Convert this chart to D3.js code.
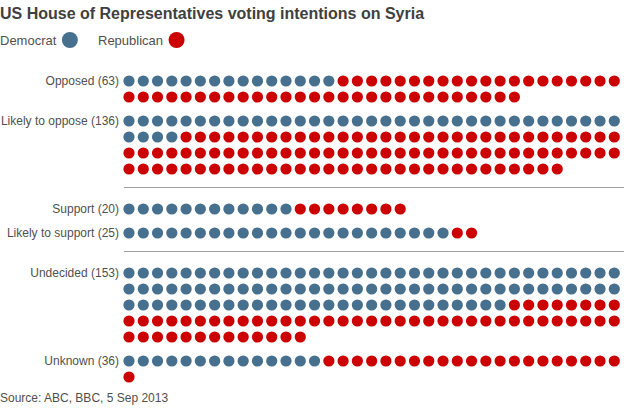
<!DOCTYPE html>
<html><head><meta charset="utf-8">
<script src="https://cdn.jsdelivr.net/npm/d3@7"></script>
<style>
html,body{margin:0;padding:0;background:#fff;}
svg{display:block;font-family:"Liberation Sans",Arial,Helvetica,sans-serif;}
</style></head>
<body>
<svg id="chart" width="624" height="412"></svg>
<script>
const title = "US House of Representatives voting intentions on Syria";
const source = "Source: ABC, BBC, 5 Sep 2013";
const seriesNames = ["Democrat", "Republican"];
const seriesColors = ["#47708f", "#cc0000"];
const categories = ["Opposed (63)", "Likely to oppose (136)", "Support (20)", "Likely to support (25)", "Undecided (153)", "Unknown (36)"];
const democrat = [15, 39, 12, 23, 97, 14];
const republican = [48, 97, 8, 2, 56, 22];
const separatorAfter = [1, 3];

const perRow = 35;
const svg = d3.select("#chart");

// Title
svg.append("text").attr("x", 0).attr("y", 18.5)
  .attr("font-size", 16).attr("font-weight", "bold").attr("fill", "#404040")
  .text(title);

// Legend
const legend = svg.append("g");
const legX = [0, 98];
seriesNames.forEach((n, i) => {
  const t = legend.append("text").attr("x", legX[i]).attr("y", 44.5)
    .attr("font-size", 13).attr("fill", "#505050").text(n);
  const w = t.node().getComputedTextLength();
  legend.append("circle").attr("cx", legX[i] + w + 13.5).attr("cy", 40).attr("r", 8)
    .attr("fill", seriesColors[i]);
});

// Layout of rows
const rowStep = 16, groupGap = 24, sepGap = 40;
let y = 81;
const groups = categories.map((c, i) => {
  const total = democrat[i] + republican[i];
  const nRows = Math.ceil(total / perRow);
  const g = {cat: c, i, y0: y, nRows, total};
  y = y + (nRows - 1) * rowStep + (separatorAfter.includes(i) ? sepGap : groupGap);
  g.next = y;
  return g;
});

const x = d3.scaleLinear().domain([0, perRow - 1]).range([129, 614.3]);
const color = d3.scaleOrdinal().domain(seriesNames).range(seriesColors);

const dots = [];
groups.forEach(g => {
  for (let k = 0; k < g.total; k++) {
    dots.push({
      col: k % perRow,
      y: g.y0 + Math.floor(k / perRow) * rowStep,
      party: k < democrat[g.i] ? seriesNames[0] : seriesNames[1]
    });
  }
});

svg.append("g").selectAll("circle").data(dots).join("circle")
  .attr("cx", d => x(d.col)).attr("cy", d => d.y).attr("r", 5.6)
  .attr("fill", d => color(d.party));

// Labels
svg.append("g").selectAll("text").data(groups).join("text")
  .attr("x", 119).attr("y", d => d.y0 + 4.4).attr("text-anchor", "end")
  .attr("font-size", 12).attr("fill", "#505050").text(d => d.cat);

// Separators
svg.append("g").selectAll("line").data(groups.filter(g => separatorAfter.includes(g.i))).join("line")
  .attr("x1", 124).attr("x2", 624)
  .attr("y1", d => Math.round((d.y0 + (d.nRows - 1) * rowStep + d.next) / 2) - 1.5)
  .attr("y2", d => Math.round((d.y0 + (d.nRows - 1) * rowStep + d.next) / 2) - 1.5)
  .attr("stroke", "#a0a0a0").attr("stroke-width", 1);

// Source
svg.append("text").attr("x", 0).attr("y", 402).attr("font-size", 12).attr("fill", "#505050").text(source);
</script>
</body></html>
